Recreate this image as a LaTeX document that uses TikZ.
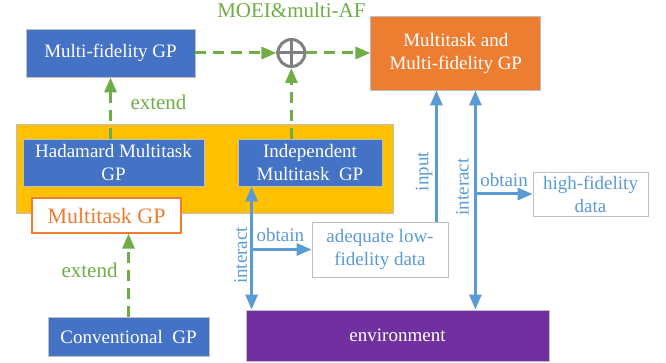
\documentclass[tikz,border=0pt]{standalone}
\usepackage{fontspec}
\setmainfont{Liberation Serif}
\usepackage{xcolor}
\usetikzlibrary{arrows.meta, positioning}

\definecolor{gpblue}{HTML}{4472C4}
\definecolor{gporange}{HTML}{ED7D31}
\definecolor{gpyellow}{HTML}{FFC000}
\definecolor{envpurple}{HTML}{7030A0}
\definecolor{extgreen}{HTML}{70AD47}
\definecolor{flowblue}{HTML}{5B9BD5}
\definecolor{edgegrey}{HTML}{BFBFBF}

\tikzset{
  model/.style={draw=edgegrey, line width=0.8pt, fill=gpblue, text=white, align=center, inner sep=0pt},
  datanode/.style={draw=edgegrey, line width=0.8pt, fill=white, text=flowblue, align=center, inner sep=0pt},
  ext/.style={draw=extgreen, line width=3pt, dash pattern=on 11pt off 7pt, ->},
  flow/.style={draw=flowblue, line width=3pt},
  greentxt/.style={text=extgreen, inner sep=0pt, font=\fontsize{21}{24}\selectfont},
  bluetxt/.style={text=flowblue, font=\fontsize{19}{22}\selectfont},
}

\begin{document}
\begin{tikzpicture}[x=1pt, y=-1pt, >={Triangle[length=15pt,width=12pt]}, font=\fontsize{19}{23}\selectfont]
  \fill[white] (0,0) rectangle (666,363);
  \useasboundingbox (0,0) rectangle (666,363);

  % multitask group behind
  \node[draw=edgegrey, fill=gpyellow, minimum width=377pt, minimum height=89pt] (mtgroup) at (204.5,168.5) {};

  \node[model, minimum width=169pt, minimum height=48pt] (mfgp) at (110.5,53) {Multi-fidelity GP};
  \node[draw=gray, line width=3pt, circle, minimum size=27pt, inner sep=0pt, right=81pt of mfgp] (plus) {};
  \draw[gray, line width=3pt] (plus.north) -- (plus.south) (plus.west) -- (plus.east);
  \node[greentxt, above=20pt of plus] (moei) {MOEI\&multi-AF};
  \node[model, fill=gporange, minimum width=170pt, minimum height=74pt, right=64pt of plus] (mtmf) {Multitask and\\Multi-fidelity GP};

  \node[model, minimum width=181pt, minimum height=47pt] (had) at (113.5,162.5) {Hadamard Multitask\\GP};
  \node[model, minimum width=144pt, minimum height=47pt] (ind) at (310,162.5) {Independent\\Multitask~ GP};
  \node[draw=gporange, line width=1.2pt, fill=white, text=gporange, inner sep=0pt,
        font=\fontsize{22}{24}\selectfont, minimum width=149pt, minimum height=35pt] (mtgp) at (106.5,215.5) {Multitask GP};
  \node[model, minimum width=161pt, minimum height=39pt] (conv) at (128.5,336.5) {Conventional~ GP};

  \node[model, fill=envpurple, minimum width=303pt, minimum height=51pt] (env) at (397.5,335.5) {environment};
  \node[datanode, minimum width=136pt, minimum height=55pt] (low) at (380,249.5) {adequate low-\\fidelity data};
  \node[datanode, minimum width=115pt, minimum height=44pt] (high) at (590.5,194) {high-fidelity\\data};

  % extensions
  \draw[ext] (mfgp) -- (plus);
  \draw[ext] (plus) -- (mtmf);
  \draw[ext] (mfgp.south |- had.north) -- node[greentxt, right=18.5pt, pos=0.6]{extend} (mfgp.south);
  \draw[ext] (plus |- ind.north) -- (plus);
  \draw[ext] (conv.north) -- node[greentxt, left=9.5pt, pos=0.56]{extend} (conv.north |- mtgp.south);

  % data flow
  \coordinate (lowact) at ([xshift=14pt]ind.south west);
  \coordinate (inp) at ([xshift=-12pt]low.north east);
  \coordinate (highact) at ([xshift=105pt]mtmf.south west);
  \draw[flow, <->] (lowact) -- node[bluetxt, rotate=90, above, inner sep=3pt, pos=0.56]{interact} (lowact |- env.north);
  \draw[flow, ->] (lowact |- low.west) -- node[bluetxt, above, inner sep=6pt, pos=0.48]{obtain} (low.west);
  \draw[flow, ->] (inp) -- node[bluetxt, rotate=90, above, inner sep=2.5pt, pos=0.38]{input} (inp |- mtmf.south);
  \draw[flow, <->] (highact) -- node[bluetxt, rotate=90, above, inner sep=5pt, pos=0.44]{interact} (highact |- env.north);
  \draw[flow, ->] (highact |- high.west) -- node[bluetxt, above, inner sep=6pt, pos=0.5]{obtain} (high.west);
\end{tikzpicture}
\end{document}
